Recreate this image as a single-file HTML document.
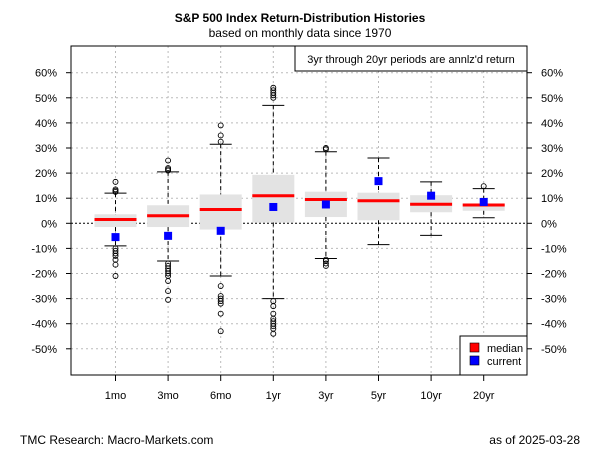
<!DOCTYPE html>
<html><head><meta charset="utf-8"><style>
body{margin:0;background:#fff;}
svg text{font-family:"Liberation Sans",Arial,sans-serif;}
</style></head><body>
<svg id="chart" width="600" height="450" xmlns="http://www.w3.org/2000/svg">
<rect width="600" height="450" fill="#fff"/>
<text x="300" y="22" text-anchor="middle" font-size="12" font-weight="bold">S&amp;P 500 Index Return-Distribution Histories</text>
<text x="300" y="37" text-anchor="middle" font-size="12">based on monthly data since 1970</text>
<g id="grid"></g><g id="marks"></g><g id="axes"></g>
<g>
<rect x="295" y="46" width="232" height="25" fill="#fff" stroke="#000"/>
<text x="411" y="63" text-anchor="middle" font-size="11">3yr through 20yr periods are annlz'd return</text>
</g>
<g>
<rect x="460" y="336" width="67" height="39" fill="#fff" stroke="#000"/>
<rect x="470" y="343" width="9" height="9" fill="#f00" stroke="#000" stroke-width="0.6"/>
<text x="487" y="352" font-size="11">median</text>
<rect x="470" y="356" width="9" height="9" fill="#00f" stroke="#000" stroke-width="0.6"/>
<text x="487" y="365" font-size="11">current</text>
</g>
<text x="20" y="444" font-size="12">TMC Research: Macro-Markets.com</text>
<text x="580" y="444" text-anchor="end" font-size="12">as of  2025-03-28</text>
</svg>
<script>
const categories=["1mo","3mo","6mo","1yr","3yr","5yr","10yr","20yr"];
const q1=[-1.5,-1.5,-2.5,0.3,2.5,1.2,4.4,5.0];
const q3=[3.6,7.2,11.5,19.3,12.6,12.2,11.2,7.9];
const medians=[1.5,3.0,5.5,11.0,9.5,9.0,7.6,7.3];
const whiskerHi=[12.0,20.5,31.5,47.0,28.5,26.0,16.5,13.8];
const whiskerLo=[-9.0,-15.0,-21.0,-30.0,-14.0,-8.5,-4.8,2.2];
const current=[-5.5,-5.0,-3.0,6.5,7.5,16.8,11.0,8.5];
const outliersHi=[[12.5,13,13.5,16.5],[21,21.5,22,25],[32.5,35,39],[50,51,52,53,54],[29.5,30],[],[],[14.8]];
const outliersLo=[[-10,-11,-12,-13,-14.5,-16.5,-21],[-16,-17,-18,-19,-20,-21,-23,-27,-30.5],[-25,-29,-30,-31,-32,-36,-43],[-31,-33,-36,-38,-39,-40,-41,-42,-44],[-14.5,-15,-16,-17],[],[],[]];
const yTicks=[60,50,40,30,20,10,0,-10,-20,-30,-40,-50];
const L=71,R=527,T=46,B=375;
const y=v=>223.3-v*2.51;
const x=i=>115.5+i*52.6;
const NS="http://www.w3.org/2000/svg";
function mk(tag,attrs,parent){const e=document.createElementNS(NS,tag);for(const k in attrs)e.setAttribute(k,attrs[k]);document.getElementById(parent).appendChild(e);return e;}
yTicks.forEach(t=>{
 const g=mk("line",{x1:L,x2:R,y1:y(t),y2:y(t),stroke:t===0?"#000":"#bbb","stroke-dasharray":t===0?"2,2":"2,3"},"grid");
 
 
 mk("line",{x1:L-5,x2:L,y1:y(t),y2:y(t),stroke:"#000"},"axes");
 mk("line",{x1:R,x2:R+5,y1:y(t),y2:y(t),stroke:"#000"},"axes");
 const a=mk("text",{x:L-14,y:y(t)+4,"text-anchor":"end","font-size":"11"},"axes");a.textContent=t+"%";
 
 
 const b=mk("text",{x:R+14,y:y(t)+4,"font-size":"11"},"axes");b.textContent=t+"%";
 
 
});
categories.forEach((c,i)=>{
 const cx=x(i),w=21;
 const gl=mk("line",{x1:cx,x2:cx,y1:T,y2:B,stroke:"#bbb","stroke-dasharray":"2,3"},"grid");
 
 
 const bx=mk("rect",{x:cx-w,y:y(q3[i]),width:2*w,height:y(q1[i])-y(q3[i]),fill:"#e3e3e3"},"marks");
 
 
 mk("line",{x1:cx,x2:cx,y1:y(whiskerHi[i]),y2:y(q3[i]),stroke:"#000","stroke-dasharray":"4,3"},"marks");
 mk("line",{x1:cx,x2:cx,y1:y(q1[i]),y2:y(whiskerLo[i]),stroke:"#000","stroke-dasharray":"4,3"},"marks");
 mk("line",{x1:cx-11,x2:cx+11,y1:y(whiskerHi[i]),y2:y(whiskerHi[i]),stroke:"#000"},"marks");
 mk("line",{x1:cx-11,x2:cx+11,y1:y(whiskerLo[i]),y2:y(whiskerLo[i]),stroke:"#000"},"marks");
 outliersHi[i].concat(outliersLo[i]).forEach(o=>{
  const p=mk("circle",{cx:cx,cy:y(o),r:2.5,fill:"none",stroke:"#000","stroke-width":"0.9"},"marks");
  
  
 });
 const m=mk("line",{x1:cx-w,x2:cx+w,y1:y(medians[i]),y2:y(medians[i]),stroke:"#f00","stroke-width":"3"},"marks");
 
 
 const cu=mk("rect",{x:cx-4,y:y(current[i])-4,width:8,height:8,fill:"#00f"},"marks");
 
 
 mk("line",{x1:cx,x2:cx,y1:B,y2:B+6,stroke:"#000"},"axes");
 const tl=mk("text",{x:cx,y:B+24,"text-anchor":"middle","font-size":"11"},"axes");tl.textContent=c;
 
 
});
const fr=mk("rect",{x:L,y:T,width:R-L,height:B-T,fill:"none",stroke:"#000"},"axes");


</script>
</body></html>
